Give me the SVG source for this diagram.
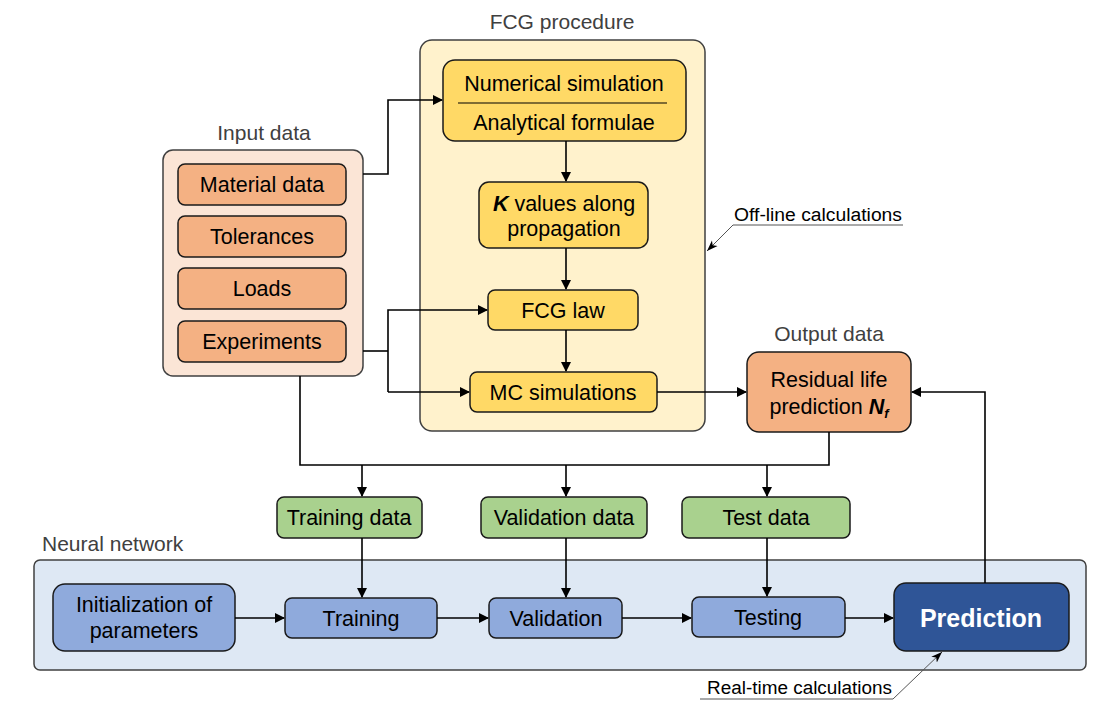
<svg xmlns="http://www.w3.org/2000/svg" width="1110" height="705" viewBox="0 0 1110 705">
<defs>
<marker id="ah" markerWidth="10" markerHeight="10" refX="9" refY="5" orient="auto" markerUnits="userSpaceOnUse"><path d="M0,0 L10,5 L0,10 z" fill="#000"/></marker>
<marker id="ahs" markerWidth="12" markerHeight="10" refX="11" refY="5" orient="auto" markerUnits="userSpaceOnUse"><path d="M0,1 L11,5 L0,9 L3,5 z" fill="#000"/></marker>
<style>
.c{fill:none;stroke:#000;stroke-width:1.6}
.t{font-family:"Liberation Sans",Arial,sans-serif;font-size:21.5px;fill:#000;text-anchor:middle}
.g{font-family:"Liberation Sans",Arial,sans-serif;font-size:21px;fill:#404040}
.n{font-family:"Liberation Sans",Arial,sans-serif;font-size:18px;fill:#000}
.cont{stroke:#404040;stroke-width:1.5}
.b{stroke:#1a1a1a;stroke-width:1.5}
.or{fill:#f4b183}
.ye{fill:#ffd966}
.gr{fill:#a9d18e}
.bl{fill:#8faadc}
</style>
</defs>
<rect width="1110" height="705" fill="#fff"/>

<g id="input-data">
<text class="g" x="264" y="140" text-anchor="middle">Input data</text>
<rect class="cont" x="163" y="150" width="200" height="226" rx="10" fill="#fbe5d6"/>
</g>
<g id="material-data"><rect class="b or" x="178" y="164" width="168" height="41" rx="7"/><text class="t" x="262" y="192">Material data</text></g>
<g id="tolerances"><rect class="b or" x="178" y="216" width="168" height="41" rx="7"/><text class="t" x="262" y="244">Tolerances</text></g>
<g id="loads"><rect class="b or" x="178" y="268" width="168" height="41" rx="7"/><text class="t" x="262" y="296">Loads</text></g>
<g id="experiments"><rect class="b or" x="178" y="321" width="168" height="41" rx="7"/><text class="t" x="262" y="349">Experiments</text></g>

<g id="fcg-procedure">
<text class="g" x="562" y="29" text-anchor="middle">FCG procedure</text>
<rect class="cont" x="420" y="40" width="285" height="391" rx="12" fill="#fff2cc"/>
</g>
<g id="numerical"><rect class="b ye" x="443" y="60" width="243" height="81" rx="12"/>
<text class="t" x="564" y="91">Numerical simulation</text>
<line x1="458" y1="103" x2="667" y2="103" stroke="#000" stroke-width="1.2"/>
<text class="t" x="564" y="130">Analytical formulae</text></g>
<g id="k-values"><rect class="b ye" x="479" y="182" width="169" height="66" rx="10"/>
<text class="t" x="564" y="211"><tspan font-weight="bold" font-style="italic">K</tspan> values along</text>
<text class="t" x="564" y="236">propagation</text></g>
<g id="fcg-law"><rect class="b ye" x="488" y="290" width="150" height="40" rx="7"/><text class="t" x="563" y="318">FCG law</text></g>
<g id="mc"><rect class="b ye" x="470" y="372" width="187" height="40" rx="7"/><text class="t" x="563" y="400">MC simulations</text></g>

<g id="output-data">
<text class="g" x="829" y="341" text-anchor="middle">Output data</text>
<rect class="b or" x="747" y="352" width="164" height="80" rx="12"/>
<text class="t" x="829" y="387">Residual life</text>
<text class="t" x="829" y="414">prediction <tspan font-weight="bold" font-style="italic">N</tspan><tspan font-weight="bold" font-style="italic" font-size="13" dy="4">f</tspan></text>
</g>

<g id="training-data"><rect class="b gr" x="277" y="497" width="145" height="41" rx="7"/><text class="t" x="349" y="525">Training data</text></g>
<g id="validation-data"><rect class="b gr" x="481" y="497" width="166" height="41" rx="7"/><text class="t" x="564" y="525">Validation data</text></g>
<g id="test-data"><rect class="b gr" x="682" y="497" width="168" height="41" rx="7"/><text class="t" x="766" y="525">Test data</text></g>

<g id="neural-network">
<text class="g" x="42" y="551" text-anchor="start">Neural network</text>
<rect class="cont" x="34" y="560" width="1052" height="110" rx="6" fill="#dee8f4"/>
</g>
<g id="initialization"><rect class="b bl" x="53" y="584" width="182" height="67" rx="12"/>
<text class="t" x="144" y="612">Initialization of</text>
<text class="t" x="144" y="638">parameters</text></g>
<g id="training"><rect class="b bl" x="285" y="598" width="152" height="40" rx="7"/><text class="t" x="361" y="626">Training</text></g>
<g id="validation"><rect class="b bl" x="489" y="598" width="133" height="40" rx="7"/><text class="t" x="556" y="626">Validation</text></g>
<g id="testing"><rect class="b bl" x="692" y="597" width="153" height="40" rx="7"/><text class="t" x="768" y="625">Testing</text></g>
<g id="prediction"><rect class="b" x="894" y="583" width="175" height="68" rx="12" fill="#2f5597"/>
<text class="t" x="981" y="627" font-weight="bold" style="font-size:25px;fill:#fff">Prediction</text></g>

<g id="annotations">
<text class="n" x="734" y="221" textLength="168" lengthAdjust="spacingAndGlyphs">Off-line calculations</text>
<polyline points="903,225 733,225 707,251" fill="none" stroke="#555" stroke-width="1" marker-end="url(#ahs)"/>
<text class="n" x="707" y="694" textLength="185" lengthAdjust="spacingAndGlyphs">Real-time calculations</text>
<polyline points="700,699 893,699 942,652" fill="none" stroke="#555" stroke-width="1" marker-end="url(#ahs)"/>
</g>

<g id="connectors">
<polyline class="c" points="363,174 388,174 388,100 442,100" marker-end="url(#ah)"/>
<line class="c" x1="363" y1="351" x2="388" y2="351"/>
<polyline class="c" points="388,392 388,310 487,310" marker-end="url(#ah)"/>
<line class="c" x1="388" y1="392" x2="469" y2="392" marker-end="url(#ah)"/>
<line class="c" x1="566" y1="141" x2="566" y2="181" marker-end="url(#ah)"/>
<line class="c" x1="566" y1="248" x2="566" y2="289" marker-end="url(#ah)"/>
<line class="c" x1="566" y1="330" x2="566" y2="371" marker-end="url(#ah)"/>
<line class="c" x1="657" y1="392" x2="746" y2="392" marker-end="url(#ah)"/>
<polyline class="c" points="300,376 300,465 829,465 829,432"/>
<line class="c" x1="362" y1="465" x2="362" y2="496" marker-end="url(#ah)"/>
<line class="c" x1="566" y1="465" x2="566" y2="496" marker-end="url(#ah)"/>
<line class="c" x1="767" y1="465" x2="767" y2="496" marker-end="url(#ah)"/>
<line class="c" x1="362" y1="538" x2="362" y2="597" marker-end="url(#ah)"/>
<line class="c" x1="566" y1="538" x2="566" y2="597" marker-end="url(#ah)"/>
<line class="c" x1="767" y1="538" x2="767" y2="596" marker-end="url(#ah)"/>
<line class="c" x1="235" y1="618" x2="284" y2="618" marker-end="url(#ah)"/>
<line class="c" x1="437" y1="618" x2="488" y2="618" marker-end="url(#ah)"/>
<line class="c" x1="622" y1="618" x2="691" y2="618" marker-end="url(#ah)"/>
<line class="c" x1="845" y1="618" x2="893" y2="618" marker-end="url(#ah)"/>
<polyline class="c" points="985,583 985,392 912,392" marker-end="url(#ah)"/>
</g>
</svg>
